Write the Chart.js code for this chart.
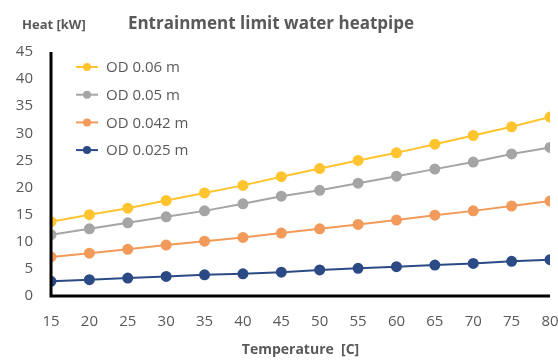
<!DOCTYPE html>
<html lang="en">
<head>
<meta charset="UTF-8">
<title>Entrainment limit water heatpipe</title>
<script src="https://cdn.jsdelivr.net/npm/chart.js"></script>
<style>
    html, body { margin: 0; padding: 0; background: #fff; }
    #wrap { width: 558px; height: 360px; position: relative; }
</style>
</head>
<body>
<div id="wrap"><canvas id="heatChart"></canvas></div>
<script>
// Temperature [C]
const temps = [15, 20, 25, 30, 35, 40, 45, 50, 55, 60, 65, 70, 75, 80];
// Heat [kW] per outer diameter
const od060 = [13.7, 15.0, 16.2, 17.6, 19.0, 20.4, 22.0, 23.5, 25.0, 26.4, 28.0, 29.6, 31.2, 33.0];
const od050 = [11.3, 12.4, 13.5, 14.6, 15.7, 17.0, 18.4, 19.5, 20.8, 22.1, 23.4, 24.7, 26.2, 27.4];
const od042 = [7.2, 7.9, 8.6, 9.4, 10.1, 10.8, 11.6, 12.4, 13.2, 14.0, 14.9, 15.7, 16.6, 17.5];
const od025 = [2.7, 3.0, 3.3, 3.6, 3.9, 4.1, 4.4, 4.8, 5.1, 5.4, 5.7, 6.0, 6.4, 6.7];
const seriesNames = ['OD 0.06 m', 'OD 0.05 m', 'OD 0.042 m', 'OD 0.025 m'];
const seriesColors = ['#FFC42E', '#A5A5A5', '#F29A5A', '#2C4A85'];

const font = "'Open Sans', 'Liberation Sans', sans-serif";
const textGrey = '#595959';

function series(i, values) {
    return {
        label: seriesNames[i],
        data: temps.map((t, k) => ({ x: t, y: values[k] })),
        borderColor: seriesColors[i],
        backgroundColor: seriesColors[i],
        borderWidth: 2,
        pointRadius: 4.5,
        pointHoverRadius: 4.5,
        tension: 0
    };
}

// titles, in-plot legend and the heavy axis lines
const decorations = {
    id: 'decorations',
    afterDraw(chart) {
        const ctx = chart.ctx;
        const area = chart.chartArea;
        ctx.save();
        ctx.textBaseline = 'middle';

        ctx.fillStyle = textGrey;
        ctx.font = "bold 13px " + font;
        ctx.textAlign = 'left';
        ctx.fillText('Heat [kW]', 22, 25);

        ctx.font = "bold 17px " + font;
        ctx.textAlign = 'center';
        ctx.fillText('Entrainment limit water heatpipe', 271, 24);

        ctx.font = "15px " + font;
        ctx.textAlign = 'left';
        chart.data.datasets.forEach((ds, i) => {
            const y = 67 + i * 27.7;
            const x0 = area.left + 25;
            ctx.strokeStyle = ds.borderColor;
            ctx.lineWidth = 2;
            ctx.beginPath();
            ctx.moveTo(x0, y);
            ctx.lineTo(x0 + 22, y);
            ctx.stroke();
            ctx.fillStyle = ds.borderColor;
            ctx.beginPath();
            ctx.arc(x0 + 11, y, 4, 0, Math.PI * 2);
            ctx.fill();
            ctx.fillStyle = textGrey;
            ctx.fillText(ds.label, x0 + 30, y + 1);
        });

        ctx.strokeStyle = '#000';
        ctx.lineWidth = 3;
        ctx.beginPath();
        ctx.moveTo(area.left, area.top);
        ctx.lineTo(area.left, area.bottom);
        ctx.lineTo(area.right, area.bottom);
        ctx.stroke();
        ctx.restore();
    }
};

new Chart(document.getElementById('heatChart'), {
    type: 'line',
    data: {
        datasets: [series(0, od060), series(1, od050), series(2, od042), series(3, od025)]
    },
    options: {
        responsive: true,
        maintainAspectRatio: false,
        animation: false,
        layout: { padding: { top: 52, left: 0, right: 0, bottom: 2 } },
        plugins: {
            legend: { display: false },
            tooltip: { enabled: false }
        },
        scales: {
            x: {
                type: 'linear',
                min: 15,
                max: 80,
                grid: { display: false, drawTicks: false },
                border: { display: false },
                afterFit(scale) {
                    scale.height = 62;
                    scale.paddingLeft = 0;
                    scale.paddingRight = 8;
                },
                ticks: {
                    stepSize: 5,
                    padding: 17,
                    color: textGrey,
                    font: { family: font, size: 15 }
                },
                title: {
                    display: true,
                    text: 'Temperature  [C]',
                    color: textGrey,
                    padding: { top: 0, bottom: 0 },
                    font: { family: font, size: 14, weight: 'bold' }
                }
            },
            y: {
                min: 0,
                max: 45,
                grid: { display: false, drawTicks: false },
                border: { display: false },
                afterFit(scale) { scale.width = 51; },
                ticks: {
                    stepSize: 5,
                    padding: 18,
                    color: textGrey,
                    font: { family: font, size: 15 }
                }
            }
        }
    },
    plugins: [decorations]
});
</script>
</body>
</html>
